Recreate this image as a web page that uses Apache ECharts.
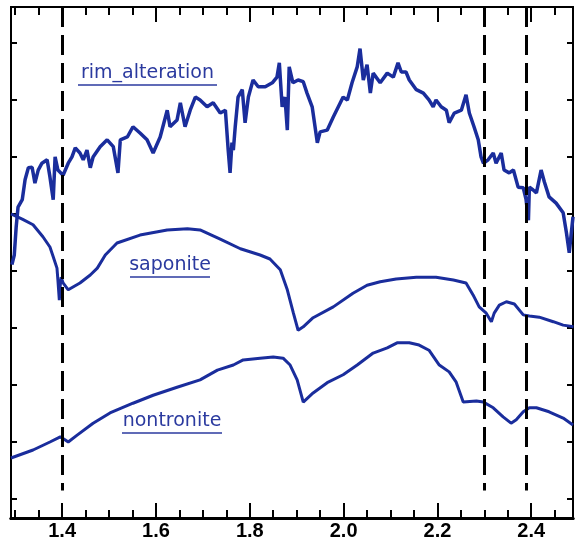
<!DOCTYPE html>
<html>
<head>
<meta charset="utf-8">
<script src="https://cdn.jsdelivr.net/npm/echarts@6/dist/echarts.min.js"></script>
<style>html,body{margin:0;padding:0;background:#fff;}#c{width:576px;height:541px;}</style>
</head>
<body>
<div id="c"></div>
<script>
// wavelength (micron), relative reflectance (offset, arbitrary units)
const rimAlteration = [
[1.293,4.11],[1.298,4.28],[1.302,4.77],[1.306,5.12],[1.315,5.25],[1.321,5.60],[1.328,5.81],[1.336,5.82],
[1.342,5.54],[1.349,5.77],[1.357,5.89],[1.368,5.95],[1.374,5.65],[1.381,5.25],[1.385,6.00],[1.391,5.77],
[1.402,5.68],[1.413,5.89],[1.421,6.00],[1.428,6.16],[1.438,6.07],[1.445,5.95],[1.453,6.12],[1.460,5.81],
[1.466,6.00],[1.481,6.18],[1.496,6.30],[1.509,6.18],[1.519,5.72],[1.524,6.30],[1.539,6.35],[1.551,6.53],
[1.566,6.42],[1.581,6.30],[1.594,6.07],[1.609,6.35],[1.624,6.82],[1.630,6.53],[1.645,6.65],[1.652,6.95],
[1.662,6.53],[1.673,6.82],[1.684,7.05],[1.694,7.00],[1.709,6.88],[1.722,6.95],[1.737,6.77],[1.748,6.82],
[1.754,6.12],[1.758,5.72],[1.762,6.25],[1.765,6.12],[1.769,6.53],[1.775,7.05],[1.784,7.18],[1.790,6.60],
[1.797,7.05],[1.807,7.35],[1.818,7.23],[1.833,7.23],[1.848,7.30],[1.858,7.40],[1.863,7.65],[1.869,6.88],
[1.875,7.05],[1.880,6.47],[1.884,7.58],[1.892,7.30],[1.903,7.35],[1.914,7.32],[1.922,7.12],[1.933,6.88],
[1.944,6.25],[1.950,6.44],[1.965,6.47],[1.978,6.70],[1.993,6.95],[1.999,7.05],[2.008,7.00],[2.018,7.30],
[2.029,7.58],[2.035,7.90],[2.042,7.35],[2.050,7.62],[2.057,7.12],[2.063,7.47],[2.078,7.30],[2.093,7.47],
[2.106,7.40],[2.116,7.65],[2.123,7.49],[2.133,7.49],[2.140,7.35],[2.155,7.18],[2.170,7.12],[2.182,7.00],
[2.191,6.88],[2.197,7.00],[2.208,6.88],[2.219,6.82],[2.225,6.60],[2.236,6.77],[2.251,6.82],[2.261,7.09],
[2.268,6.77],[2.278,6.53],[2.287,6.30],[2.293,6.00],[2.298,5.89],[2.308,5.95],[2.319,6.07],[2.325,5.89],
[2.336,6.07],[2.342,5.77],[2.353,5.72],[2.362,5.77],[2.372,5.47],[2.383,5.46],[2.389,5.25],[2.394,4.89],
[2.396,5.47],[2.404,5.42],[2.411,5.37],[2.421,5.77],[2.428,5.56],[2.438,5.30],[2.453,5.19],[2.468,5.02],
[2.475,4.67],[2.481,4.32],[2.489,4.95]
];
const saponite = [
[1.291,5.00],[1.315,4.91],[1.338,4.81],[1.359,4.60],[1.374,4.42],[1.381,4.25],[1.389,4.05],[1.391,3.84],
[1.394,3.49],[1.396,3.75],[1.398,3.89],[1.402,3.79],[1.413,3.67],[1.438,3.79],[1.460,3.93],[1.475,4.05],
[1.492,4.28],[1.517,4.49],[1.566,4.63],[1.624,4.72],[1.667,4.74],[1.694,4.72],[1.737,4.56],[1.780,4.39],
[1.822,4.28],[1.843,4.21],[1.865,4.02],[1.880,3.67],[1.893,3.26],[1.903,2.96],[1.914,3.02],[1.935,3.18],
[1.978,3.37],[2.020,3.61],[2.050,3.75],[2.078,3.81],[2.112,3.86],[2.155,3.89],[2.197,3.89],[2.234,3.84],
[2.261,3.79],[2.276,3.58],[2.289,3.37],[2.304,3.26],[2.315,3.11],[2.321,3.26],[2.332,3.40],[2.347,3.46],
[2.364,3.42],[2.383,3.23],[2.396,3.21],[2.417,3.19],[2.447,3.11],[2.468,3.05],[2.490,3.02]
];
const nontronite = [
[1.291,0.72],[1.338,0.86],[1.374,1.00],[1.396,1.09],[1.406,1.04],[1.413,1.00],[1.432,1.12],[1.466,1.33],
[1.502,1.51],[1.551,1.68],[1.594,1.82],[1.645,1.96],[1.694,2.09],[1.731,2.26],[1.765,2.35],[1.786,2.44],
[1.822,2.47],[1.850,2.49],[1.871,2.47],[1.886,2.35],[1.901,2.09],[1.914,1.70],[1.935,1.86],[1.965,2.04],
[1.999,2.18],[2.029,2.35],[2.063,2.56],[2.093,2.65],[2.114,2.74],[2.140,2.74],[2.161,2.70],[2.182,2.61],
[2.204,2.35],[2.225,2.23],[2.240,2.05],[2.255,1.70],[2.283,1.72],[2.298,1.70],[2.319,1.60],[2.340,1.44],
[2.357,1.33],[2.368,1.39],[2.383,1.53],[2.396,1.60],[2.411,1.60],[2.438,1.53],[2.468,1.42],[2.489,1.30]
];
const xMajorTicks = [1.4, 1.6, 1.8, 2.0, 2.2, 2.4];
const xMinorTicks = [1.30,1.35,1.45,1.50,1.55,1.65,1.70,1.75,1.85,1.90,1.95,2.05,2.10,2.15,2.25,2.30,2.35,2.45];
const yTicks = [0, 1, 2, 3, 4, 5, 6, 7, 8];
const bandLines = [1.4, 2.3, 2.39];
const curveLabels = [
  {text: 'rim_alteration', cx: 147.5, y: 73, x1: 78, x2: 217, uy: 85},
  {text: 'saponite', cx: 170, y: 265, x1: 130, x2: 210, uy: 277},
  {text: 'nontronite', cx: 172, y: 421, x1: 122, x2: 222, uy: 433}
];

const X_MIN = 1.291, X_MAX = 2.489, Y_MIN = -0.333, Y_MAX = 8.63;
const lineColor = '#1a2d9c';
const textColor = '#2b3a9f';

function xAxisDef(pos, ticks, len, labels) {
  return {
    type: 'value', position: pos, min: X_MIN, max: X_MAX,
    axisLine: {show: true, onZero: false, lineStyle: {color: '#000', width: pos === 'bottom' ? 3 : 2}},
    axisTick: {show: true, inside: true, length: len, customValues: ticks, lineStyle: {color: '#000', width: 2}},
    axisLabel: labels ? {show: true, customValues: ticks, margin: 3, color: '#000',
      fontFamily: 'Liberation Sans', fontWeight: 'bold', fontSize: 20,
      formatter: v => Number(v).toFixed(1)} : {show: false},
    splitLine: {show: false}
  };
}
function yAxisDef(pos) {
  return {
    type: 'value', position: pos, min: Y_MIN, max: Y_MAX,
    axisLine: {show: true, onZero: false, lineStyle: {color: '#000', width: 2}},
    axisTick: {show: true, inside: true, length: 6, customValues: yTicks, lineStyle: {color: '#000', width: 2}},
    axisLabel: {show: false},
    splitLine: {show: false}
  };
}

const chart = echarts.init(document.getElementById('c'), null, {renderer: 'canvas'});
const graphics = [];
curveLabels.forEach(l => {
  graphics.push({type: 'text', silent: true, style: {text: l.text, x: l.cx, y: l.y,
    font: '19px "DejaVu Sans"', fill: textColor, align: 'center', verticalAlign: 'middle',
    textAlign: 'center', textVerticalAlign: 'middle'}});
  graphics.push({type: 'line', silent: true, shape: {x1: l.x1, y1: l.uy, x2: l.x2, y2: l.uy},
    style: {stroke: textColor, lineWidth: 1.5}});
});

chart.setOption({
  animation: false,
  backgroundColor: '#fff',
  grid: {left: 11, right: 3, top: 7, bottom: 23, containLabel: false},
  xAxis: [
    xAxisDef('bottom', xMajorTicks, 15, true),
    xAxisDef('bottom', xMinorTicks, 8, false),
    xAxisDef('top', xMajorTicks, 15, false),
    xAxisDef('top', xMinorTicks, 8, false)
  ],
  yAxis: [yAxisDef('left'), yAxisDef('right')],
  graphic: graphics,
  series: [
    {type: 'line', name: 'rim_alteration', data: rimAlteration, showSymbol: false, symbol: 'none',
     lineStyle: {color: lineColor, width: 3.5}, xAxisIndex: 0, yAxisIndex: 0, z: 3,
     markLine: {silent: true, symbol: 'none', label: {show: false},
       lineStyle: {color: '#000', width: 3, type: [20, 8]},
       data: bandLines.map(w => [{coord: [w, Y_MAX]}, {coord: [w, 0.15]}])}},
    {type: 'line', name: 'saponite', data: saponite, showSymbol: false, symbol: 'none',
     lineStyle: {color: lineColor, width: 3}, xAxisIndex: 0, yAxisIndex: 0, z: 3},
    {type: 'line', name: 'nontronite', data: nontronite, showSymbol: false, symbol: 'none',
     lineStyle: {color: lineColor, width: 3}, xAxisIndex: 0, yAxisIndex: 0, z: 3}
  ]
});
</script>
</body>
</html>
